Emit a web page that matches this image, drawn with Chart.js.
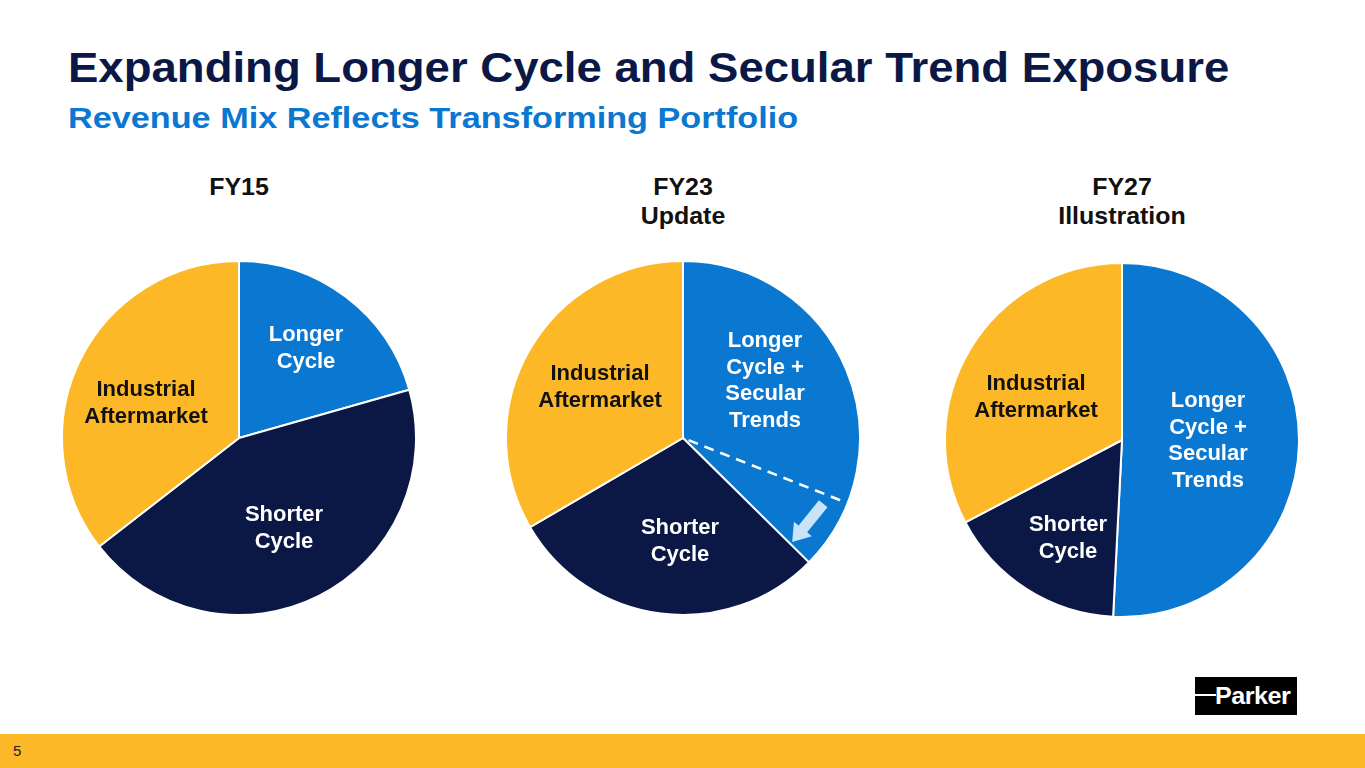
<!DOCTYPE html>
<html>
<head>
<meta charset="utf-8">
<script src="https://cdn.jsdelivr.net/npm/chart.js@4.4.1/dist/chart.umd.min.js"></script>
<style>
  html, body { margin:0; padding:0; background:#fff; }
  body { width:1365px; height:768px; position:relative; overflow:hidden; font-family:"Liberation Sans", Arial, sans-serif; }
  .abs { position:absolute; }
  #title { left:68px; top:44px; font-size:42px; font-weight:bold; color:#0B1846; white-space:nowrap; line-height:48px; transform:scaleX(1.084); transform-origin:left center; }
  #subtitle { left:68px; top:101px; font-size:29px; font-weight:bold; color:#0A77D0; white-space:nowrap; line-height:34px; transform:scaleX(1.18); transform-origin:left center; }
  .hdr { font-size:24px; font-weight:bold; color:#111; text-align:center; line-height:29px; transform:translate(-50%,0) scaleX(1.04); white-space:nowrap; }
  .lbl { font-size:22px; font-weight:bold; text-align:center; line-height:26.5px; transform:translate(-50%,-50%); white-space:nowrap; }
  .w { color:#fff; } .d { color:#111; }
  .pie { position:absolute; width:356px; height:356px; }
  #bar { left:0; top:734px; width:1365px; height:34px; background:#FDB827; }
  #page { left:13px; top:742px; font-size:15px; color:#222; }
  #logo { left:1195px; top:677px; width:102px; height:38px; background:#000; }
  #logo .ln { position:absolute; left:0; top:17px; width:21px; height:2px; background:#fff; }
  #logo .tx { position:absolute; left:20px; top:5px; font-size:24px; font-weight:900; color:#fff; letter-spacing:-0.5px; transform:scaleX(1.05); transform-origin:left center; line-height:28px; }
</style>
</head>
<body>
<div id="title" class="abs">Expanding Longer Cycle and Secular Trend Exposure</div>
<div id="subtitle" class="abs">Revenue Mix Reflects Transforming Portfolio</div>

<div class="abs hdr" style="left:239px; top:172px;">FY15</div>
<div class="abs hdr" style="left:683px; top:172px;">FY23<br>Update</div>
<div class="abs hdr" style="left:1122px; top:172px;">FY27<br>Illustration</div>

<div class="pie" style="left:61px; top:260px;"><canvas id="c1"></canvas></div>
<div class="pie" style="left:505px; top:260px;"><canvas id="c2"></canvas></div>
<div class="pie" style="left:944px; top:262px;"><canvas id="c3"></canvas></div>

<div class="abs lbl w" style="left:306px; top:347px;">Longer<br>Cycle</div>
<div class="abs lbl d" style="left:146px; top:402px;">Industrial<br>Aftermarket</div>
<div class="abs lbl w" style="left:284px; top:527px;">Shorter<br>Cycle</div>

<div class="abs lbl w" style="left:765px; top:380px;">Longer<br>Cycle +<br>Secular<br>Trends</div>
<div class="abs lbl d" style="left:600px; top:386px;">Industrial<br>Aftermarket</div>
<div class="abs lbl w" style="left:680px; top:540px;">Shorter<br>Cycle</div>

<div class="abs lbl w" style="left:1208px; top:440px;">Longer<br>Cycle +<br>Secular<br>Trends</div>
<div class="abs lbl d" style="left:1036px; top:396px;">Industrial<br>Aftermarket</div>
<div class="abs lbl w" style="left:1068px; top:537px;">Shorter<br>Cycle</div>

<div id="bar" class="abs"></div>
<div id="page" class="abs">5</div>
<div id="logo" class="abs"><div class="ln"></div><div class="tx">Parker</div></div>

<script>
// Segments (clockwise from top)
const segments = ["Longer Cycle (+ Secular Trends)", "Shorter Cycle", "Industrial Aftermarket"];
// Revenue mix shares, %
const fy15 = [20.6, 43.9, 35.5];
const fy23 = [37.4, 29.2, 33.4];
const fy27 = [50.8, 16.5, 32.7];
// FY23: prior longer-cycle share marked by the dashed line, %
const fy23PriorLonger = [31.0];

const colors = ["#0A77D0", "#0B1846", "#FDB827"];

// Dashed line + arrow for FY23 chart, derived from the arc geometry
const shiftMarker = {
  id: 'shiftMarker',
  afterDatasetsDraw(chart) {
    const arcs = chart.getDatasetMeta(0).data;
    const a0 = arcs[0];
    const cx = a0.x, cy = a0.y, R = a0.outerRadius;
    const total = chart.data.datasets[0].data.reduce((s, v) => s + v, 0);
    const ang = -Math.PI / 2 + (fy23PriorLonger[0] / total) * 2 * Math.PI;
    const ctx = chart.ctx;
    ctx.save();
    ctx.strokeStyle = '#fff';
    ctx.lineWidth = 2.5;
    ctx.setLineDash([10, 7]);
    ctx.beginPath();
    ctx.moveTo(cx + 6 * Math.cos(ang), cy + 6 * Math.sin(ang));
    ctx.lineTo(cx + (R - 1) * Math.cos(ang), cy + (R - 1) * Math.sin(ang));
    ctx.stroke();
    ctx.setLineDash([]);
    // arrow from just past dashed line to boundary of Longer slice
    const endAng = a0.endAngle;
    const r = R * 0.875;
    const t1 = ang + 3.5 * Math.PI / 180, t2 = endAng - 1.0 * Math.PI / 180;
    const x1 = cx + r * Math.cos(t1), y1 = cy + r * Math.sin(t1);
    const x2 = cx + (r - 4) * Math.cos(t2), y2 = cy + (r - 4) * Math.sin(t2);
    const dx = x2 - x1, dy = y2 - y1, L = Math.hypot(dx, dy);
    const ux = dx / L, uy = dy / L, px = -uy, py = ux;
    const hw = 5.5, hh = 11.5, hl = 17;
    const bx = x2 - ux * hl, by = y2 - uy * hl;
    ctx.fillStyle = '#C9E4F8';
    ctx.beginPath();
    ctx.moveTo(x1 + px * hw, y1 + py * hw);
    ctx.lineTo(bx + px * hw, by + py * hw);
    ctx.lineTo(bx + px * hh, by + py * hh);
    ctx.lineTo(x2, y2);
    ctx.lineTo(bx - px * hh, by - py * hh);
    ctx.lineTo(bx - px * hw, by - py * hw);
    ctx.lineTo(x1 - px * hw, y1 - py * hw);
    ctx.closePath();
    ctx.fill();
    ctx.restore();
  }
};

function makePie(id, values, plugins) {
  return new Chart(document.getElementById(id), {
    type: 'pie',
    data: {
      labels: segments,
      datasets: [{ data: values, backgroundColor: colors, borderColor: '#ffffff', borderWidth: 2, hoverOffset: 0 }]
    },
    options: {
      responsive: true,
      maintainAspectRatio: false,
      animation: false,
      layout: { padding: 0 },
      plugins: { legend: { display: false }, tooltip: { enabled: false } }
    },
    plugins: plugins || []
  });
}

makePie('c1', fy15);
makePie('c2', fy23, [shiftMarker]);
makePie('c3', fy27);
</script>
</body>
</html>
